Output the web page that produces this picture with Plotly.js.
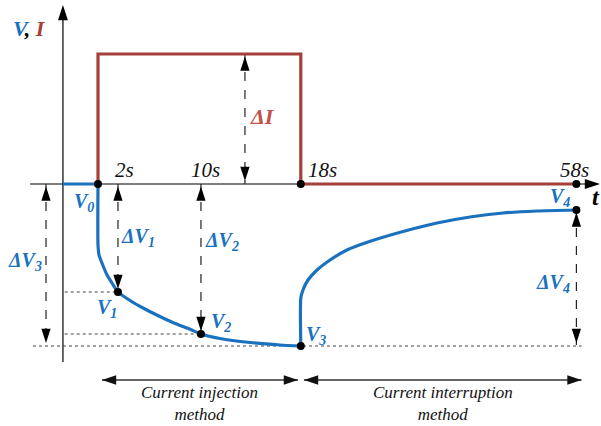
<!DOCTYPE html>
<html>
<head>
<meta charset="utf-8">
<script src="https://cdn.plot.ly/plotly-3.0.1.min.js"></script>
<style>
  html, body { margin: 0; padding: 0; background: #fff; }
  #chart { width: 601px; height: 426px; }
</style>
</head>
<body>
<div id="chart"></div>
<script>
// schematic time axis (not to scale) and voltage / current in arbitrary units
const tickLabels = ["2s", "10s", "18s", "58s"];
const tickPos = [1.92, 9.9, 19.5, 46.0];

const curT = [0, 0, 19.5, 19.5, 46.1];
const curI = [0, 13, 13, 0, 0];

const restT = [-3.37, 0];
const restV = [0, 0];

const injT = [0, 0, 0.1, 0.38, 0.87, 1.35, 1.92, 3.08, 4.33, 5.75, 7.3, 8.9, 9.9, 11.73, 14.62, 17.5, 19.5];
const injV = [0, -6.1, -7.1, -7.9, -9.1, -9.9, -10.8, -11.65, -12.4, -13.15, -13.9, -14.55, -15.0, -15.45, -15.85, -16.1, -16.2];

const relT = [19.5, 19.5, 19.71, 20.19, 21.06, 22.31, 23.94, 25.96, 29.33, 32.6, 35.77, 38.94, 42.21, 46.0];
const relV = [-16.2, -11.4, -10.6, -9.6, -8.6, -7.6, -6.6, -5.8, -4.75, -3.9, -3.3, -2.9, -2.7, -2.6];

const dotT = [0, 19.5, 46.0, 1.92, 9.9, 19.5, 46.0];
const dotV = [0, 0, 0, -10.8, -15.0, -16.2, -2.6];

// dimension arrows: x, top end, bottom end
const dimX = [-5.0, 1.92, 9.9, 14.13, 46.0];
const dimTop = [0, 0, 0, 13, -2.6];
const dimBot = [-16.2, -10.8, -15.0, 0, -16.2];

// guide lines at V1, V2, V3 levels
const guideX0 = [-3.2, -3.2, -6.25];
const guideX1 = [1.92, 9.9, 46.5];
const guideV = [-10.8, -15.0, -16.2];

// method spans
const spanX0 = [0.38, 19.8];
const spanX1 = [19.23, 46.5];
const spanV = -19.6;
const spanLabels = ["Current injection<br>method", "Current interruption<br>method"];

const BLUE = "#1a72bf";
const RED = "#a53f3a";
const FONT = "Liberation Serif";

const traces = [];

// axes
traces.push({ x: [-6.54, 48.0], y: [0, 0], mode: "lines", line: { color: "#000", width: 1.2 } });
traces.push({ x: [-3.37, -3.37], y: [-17.8, 17.2], mode: "lines", line: { color: "#000", width: 1.2 } });
traces.push({
  x: [48.27, -3.37], y: [0, 17.9], mode: "markers",
  marker: { symbol: "arrow", size: 16, angle: [90, 0], color: "#000" },
});

// guides
guideV.forEach((v, i) => {
  traces.push({
    x: [guideX0[i], guideX1[i]], y: [v, v], mode: "lines",
    line: { color: "#444", width: 1, dash: "dot" },
  });
});

// dimension arrows
const tipX = [], tipY = [], tipA = [];
dimX.forEach((x, i) => {
  traces.push({
    x: [x, x], y: [dimTop[i], dimBot[i]], mode: "lines",
    line: { color: "#222", width: 1.2, dash: "dash" },
  });
  tipX.push(x, x);
  tipY.push(dimTop[i] - 0.25, dimBot[i] + 0.3);
  tipA.push(0, 180);
});
traces.push({
  x: tipX, y: tipY, mode: "markers",
  marker: { symbol: "arrow", size: 15, angle: tipA, color: "#000" },
});

// method spans
const spanTipX = [], spanTipY = [], spanTipA = [];
spanX0.forEach((x0, i) => {
  traces.push({
    x: [x0, spanX1[i]], y: [spanV, spanV], mode: "lines",
    line: { color: "#333", width: 1.5 },
  });
  spanTipX.push(x0, spanX1[i]);
  spanTipY.push(spanV, spanV);
  spanTipA.push(-90, 90);
});
traces.push({
  x: spanTipX, y: spanTipY, mode: "markers",
  marker: { symbol: "arrow", size: 15, angle: spanTipA, color: "#111" },
});

// current and voltage
traces.push({ x: curT, y: curI, mode: "lines", line: { color: RED, width: 3.2 } });
traces.push({ x: restT, y: restV, mode: "lines", line: { color: BLUE, width: 3.2 } });
traces.push({ x: injT, y: injV, mode: "lines", line: { color: BLUE, width: 3.2, shape: "spline", smoothing: 0.6 } });
traces.push({ x: relT, y: relV, mode: "lines", line: { color: BLUE, width: 3.2, shape: "spline", smoothing: 0.6 } });

traces.push({ x: dotT, y: dotV, mode: "markers", marker: { color: "#000", size: 8 } });

function lbl(px, py, txt, col, sz) {
  return {
    x: px, y: py, xref: "x", yref: "y", text: txt, showarrow: false,
    xanchor: "center", yanchor: "middle",
    font: { family: FONT, size: sz || 20, color: col || "#000" },
  };
}
const B = (s) => "<b><i>" + s + "</i></b>";

const annotations = [
  lbl(-6.54, 15.6, "<b><i><span style='color:" + BLUE + "'>V</span>, <span style='color:" + RED + "'>I</span></i></b>", "#000", 22),
  lbl(47.9, -1.3, B("t"), "#000", 24),
  lbl(15.77, 6.8, B("ΔI"), "#c0504d", 22),
  lbl(-1.35, -1.8, B("V<sub>0</sub>"), BLUE),
  lbl(3.85, -5.3, B("ΔV<sub>1</sub>"), BLUE),
  lbl(11.92, -5.7, B("ΔV<sub>2</sub>"), BLUE),
  lbl(-7.02, -7.7, B("ΔV<sub>3</sub>"), BLUE),
  lbl(43.75, -9.9, B("ΔV<sub>4</sub>"), BLUE),
  lbl(0.87, -12.4, B("V<sub>1</sub>"), BLUE),
  lbl(11.83, -13.8, B("V<sub>2</sub>"), BLUE),
  lbl(20.96, -15.1, B("V<sub>3</sub>"), BLUE),
  lbl(44.42, -1.3, B("V<sub>4</sub>"), BLUE),
];

const tickOffX = [0.58, 0.39, 2.04, -0.23];
tickLabels.forEach((t, i) => {
  annotations.push(lbl(tickPos[i] + tickOffX[i], 1.4, "<i>" + t + "</i>", "#111", 21));
});

spanLabels.forEach((t, i) => {
  annotations.push(lbl((spanX0[i] + spanX1[i]) / 2, -21.9, "<i>" + t + "</i>", "#111", 17));
});

const layout = {
  width: 601,
  height: 426,
  margin: { t: 0, r: 0, b: 0, l: 0 },
  font: { family: FONT },
  paper_bgcolor: "#fff",
  plot_bgcolor: "#fff",
  showlegend: false,
  xaxis: { range: [-9.4231, 48.365], visible: false },
  yaxis: { range: [-24.2, 18.4], visible: false },
  annotations: annotations,
};

Plotly.newPlot("chart", traces, layout, { staticPlot: true });
</script>
</body>
</html>
